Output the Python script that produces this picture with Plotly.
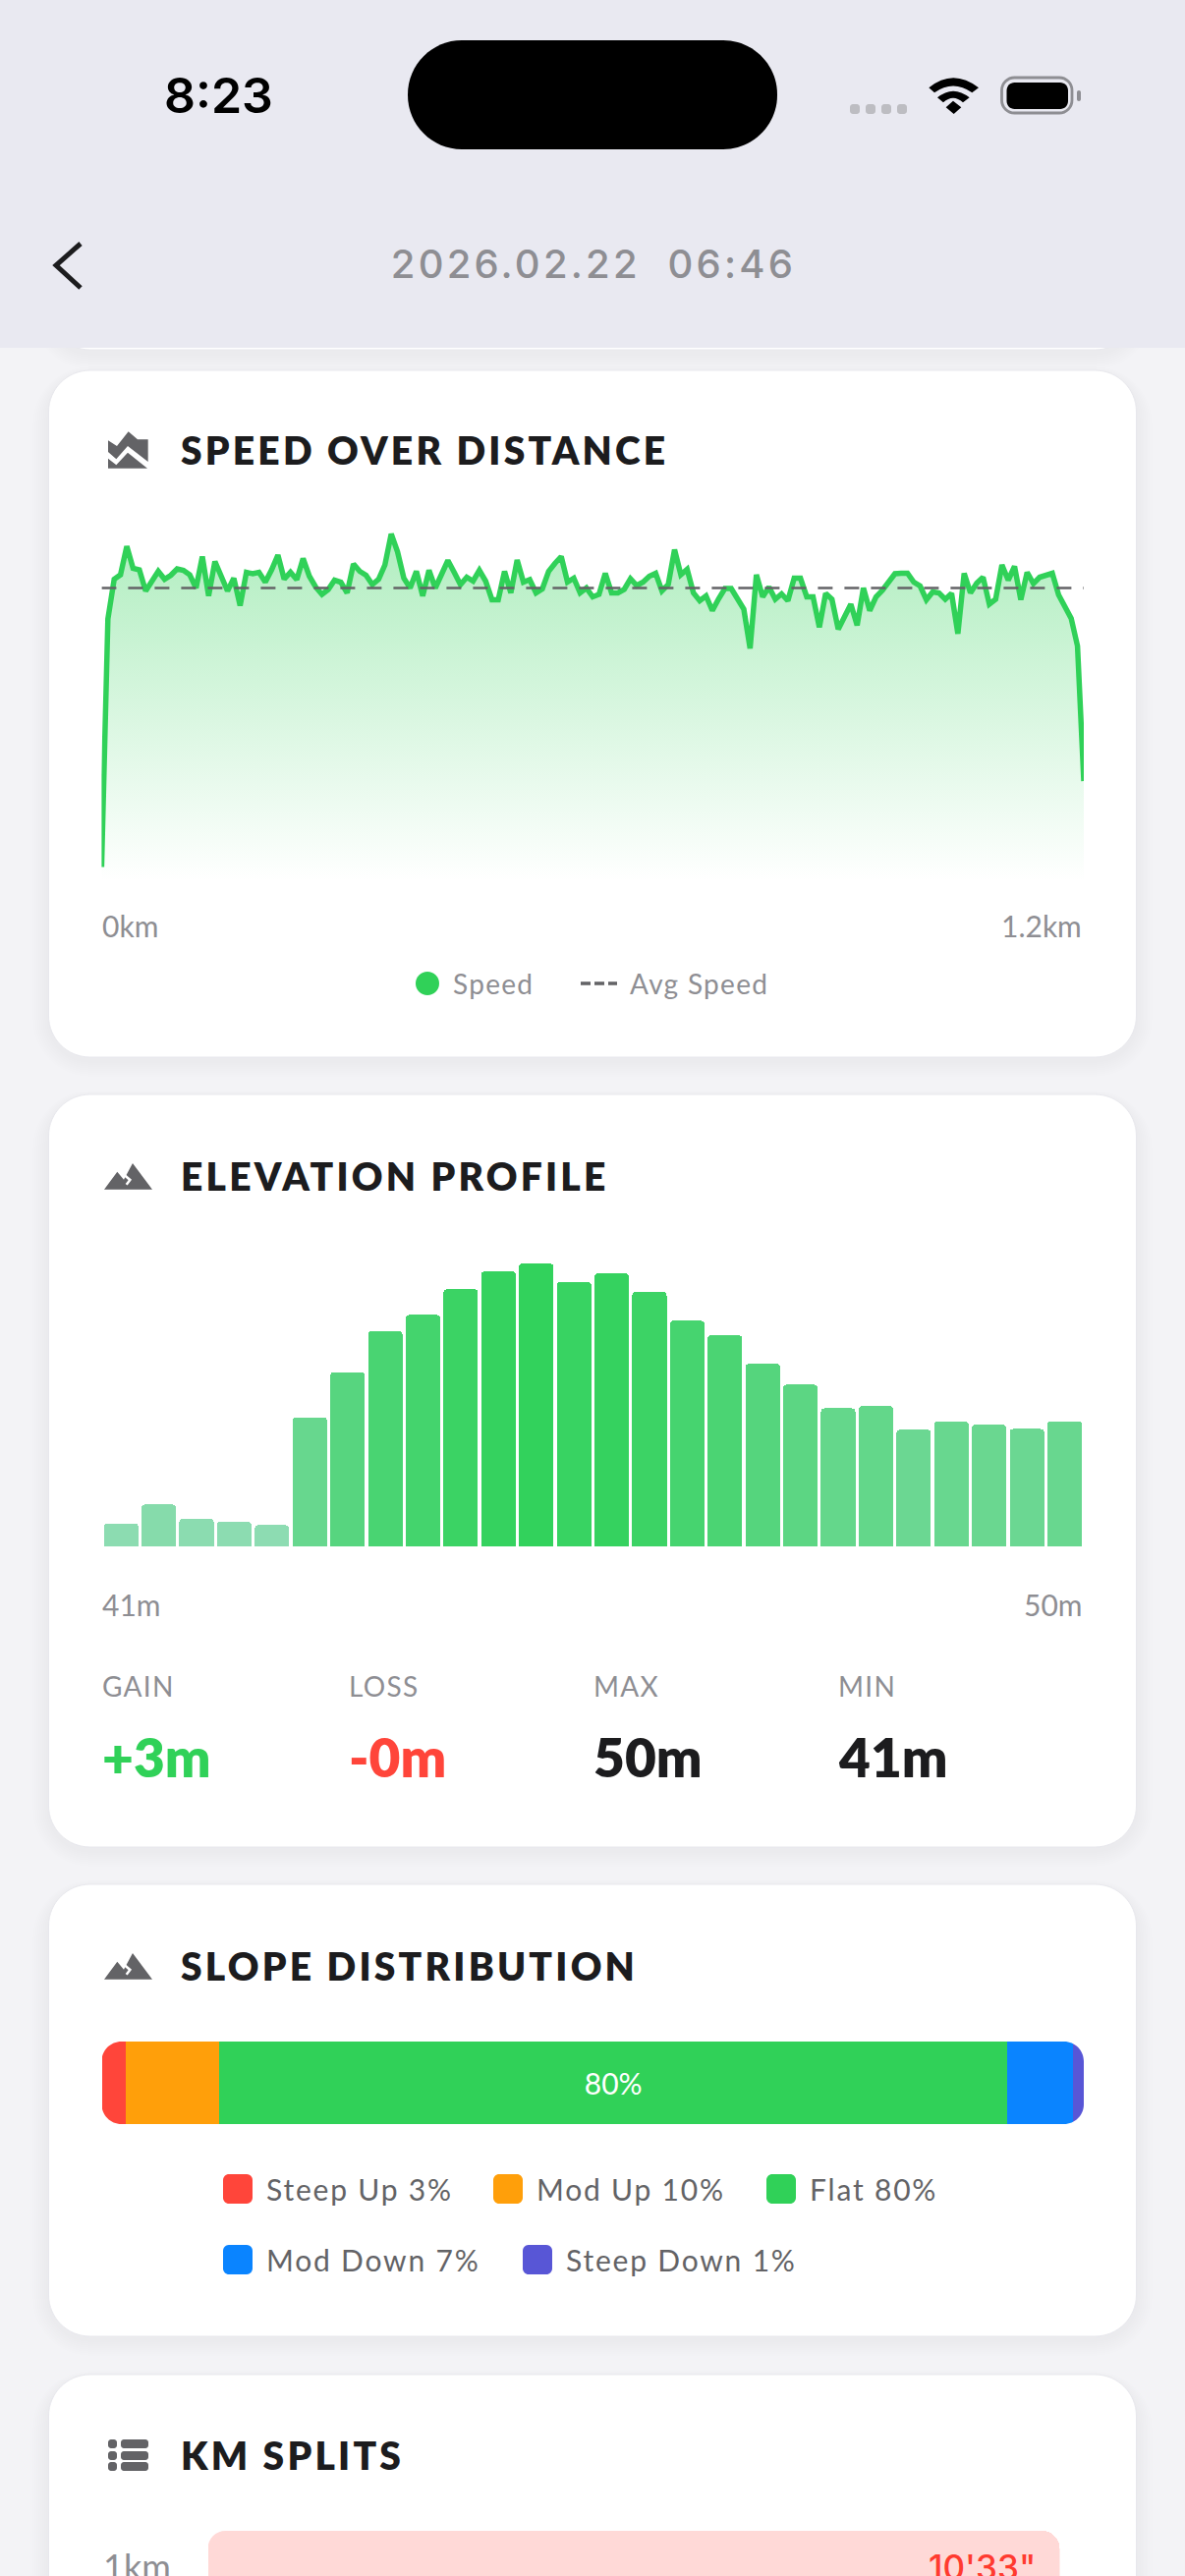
import json

import plotly.graph_objects as go

W = 1206
H = 2622

# km/h per sample along the run
SPEED = [
    0.29, 5.34, 6.15, 6.24, 6.82, 6.37, 6.34, 5.91, 6.11, 6.31, 6.15, 6.23, 6.36, 6.33, 6.24, 5.97,
    6.61, 5.81, 6.51, 6.24, 5.91, 6.17, 5.61, 6.29, 6.26, 6.29, 6.09, 6.34, 6.64, 6.15, 6.29, 6.14,
    6.57, 6.21, 5.99, 5.84, 5.94, 6.13, 6.09, 5.87, 6.46, 6.31, 6.23, 6.04, 6.15, 6.44, 7.07, 6.71,
    6.17, 5.97, 6.31, 5.81, 6.33, 5.97, 6.24, 6.53, 6.29, 6.04, 6.19, 6.11, 6.33, 6.11, 5.73, 5.73,
    6.31, 5.87, 6.54, 6.09, 6.14, 5.87, 5.95, 6.31, 6.47, 6.61, 6.09, 6.17, 5.87, 5.97, 5.79, 5.84,
    6.27, 5.87, 5.87, 5.94, 6.16, 6.02, 6.09, 6.21, 6.27, 5.91, 6.04, 6.75, 6.24, 6.35, 5.87, 5.71,
    5.81, 5.51, 5.75, 5.96, 5.96, 5.77, 5.54, 4.74, 6.24, 5.79, 5.99, 5.74, 5.85, 5.71, 6.17, 6.17,
    5.79, 5.79, 5.17, 5.86, 5.74, 5.13, 5.41, 5.64, 5.21, 5.97, 5.51, 5.79, 5.92, 6.09, 6.26, 6.27,
    6.27, 6.09, 6.01, 5.73, 5.89, 5.87, 5.74, 5.86, 5.04, 6.27, 5.87, 6.07, 6.19, 5.64, 5.74, 6.44,
    6.13, 6.41, 5.73, 6.29, 6.06, 6.19, 6.22, 6.27, 5.83, 5.59, 5.35, 4.79, 2.04,
]
AVG_SPEED = 5.97
SPEED_TICKS = ["0km", "1.2km"]

ELEVATION = [
    41.06, 41.71, 41.23, 41.12, 41.00, 44.71, 46.26, 47.67, 48.23, 49.11, 49.73, 50.00, 49.36,
    49.66, 49.02, 48.03, 47.53, 46.55, 45.83, 45.02, 45.10, 44.28, 44.57, 44.45, 44.31, 44.57,
]
ELEVATION_TICKS = ["41m", "50m"]
STAT_NAMES = ["GAIN", "LOSS", "MAX", "MIN"]
STAT_VALUES = ["+3m", "-0m", "50m", "41m"]

SLOPE_NAMES = ["Steep Up", "Mod Up", "Flat", "Mod Down", "Steep Down"]
SLOPE_SHARE = [2.45, 9.55, 80.2, 6.66, 1.14]
SLOPE_LABELS = ["3%", "10%", "80%", "7%", "1%"]

SPLIT_KM = ["1km"]
SPLIT_SECONDS = [633]
SPLIT_TEXT = ["10'33\""]

GREEN = "#30D158"
RED = "#FF453A"
ORANGE = "#FF9F0A"
BLUE = "#0A84FF"
PURPLE = "#5856D6"
INK = "#1C1C1E"
GREY = "#8E8E93"
DARK = "#636366"
SLOPE_COLORS = [RED, ORANGE, GREEN, BLUE, PURPLE]


def fx(x):
    return x / W


def fy(y):
    return 1 - y / H


def pt(x, y):
    return f"{fx(x):.6f},{fy(y):.6f}"


def rrect(x0, y0, x1, y1, r):
    k = r * 0.45
    return (
        f"M{pt(x0 + r, y0)} L{pt(x1 - r, y0)} C{pt(x1 - k, y0)} {pt(x1, y0 + k)} {pt(x1, y0 + r)} "
        f"L{pt(x1, y1 - r)} C{pt(x1, y1 - k)} {pt(x1 - k, y1)} {pt(x1 - r, y1)} "
        f"L{pt(x0 + r, y1)} C{pt(x0 + k, y1)} {pt(x0, y1 - k)} {pt(x0, y1 - r)} "
        f"L{pt(x0, y0 + r)} C{pt(x0, y0 + k)} {pt(x0 + k, y0)} {pt(x0 + r, y0)} Z"
    )


def corner(x, y, sx, sy, r):
    k = r * 0.45
    return (
        f"M{pt(x, y)} L{pt(x + sx * r, y)} "
        f"C{pt(x + sx * k, y)} {pt(x, y + sy * k)} {pt(x, y + sy * r)} Z"
    )


def poly(points):
    return "M" + " L".join(pt(x, y) for x, y in points) + " Z"


def line(points):
    return "M" + " L".join(pt(x, y) for x, y in points)


shapes = []
annotations = []
spacing = {}


def fill(path, color, layer="below"):
    shapes.append(
        dict(type="path", path=path, xref="paper", yref="paper", fillcolor=color, line_width=0, layer=layer)
    )


def stroke(path, color, width, dash="solid"):
    shapes.append(
        dict(
            type="path", path=path, xref="paper", yref="paper", line=dict(color=color, width=width, dash=dash),
            fillcolor="rgba(0,0,0,0)", layer="below",
        )
    )


def label(text, x, y, size, color, anchor="left", font="Lato", weight=400, track=0):
    annotations.append(
        dict(
            text=text, x=fx(x), y=fy(y), xref="paper", yref="paper", xanchor=anchor, yanchor="middle",
            align=anchor, showarrow=False, borderpad=0,
            font=dict(family=font, size=size, color=color, weight=weight),
        )
    )
    if track:
        spacing[text] = track


def card(y0, y1):
    for grow in range(8, 0, -1):
        fill(rrect(49 - grow * 2, y0 - grow + 4, 1157 + grow * 2, y1 + grow * 2 + 4, 42 + grow * 2), "rgba(0,0,0,0.004)")
    shapes.append(
        dict(
            type="path", path=rrect(49.5, y0, 1156.5, y1, 42), xref="paper", yref="paper", fillcolor="#FFFFFF",
            line=dict(color="#E8E8ED", width=1), layer="below",
        )
    )


def mountain(dy):
    z = lambda X, Y: (100 + X / 3, 1180 + dy + Y / 3)
    fill(poly([z(18, 92), z(58, 38), z(78, 62), z(105, 12), z(165, 92)]), DARK)
    stroke(line([z(66, 36), z(97, 63), z(86, 77)]), "#FFFFFF", 2.5)


# page background, cards, then the header on top of the card scrolled under it
card(200, 356)
card(377, 1076)
card(1114, 1880)
card(1918, 2378)
card(2417, 2720)
fill(poly([(0, 0), (W, 0), (W, 354), (0, 354)]), "#E9E9F1")

# status bar
fill(rrect(415, 41, 791, 152, 55), "#000000")
label("8:23", 222, 97, 50, "#000000", "center", "Inter", 600)
for X in [45, 93, 141, 189]:
    fill(rrect(850 + X / 3, 106, 860 + X / 3, 116, 3), "#BDBDC2")
wz = lambda X, Y: f"{pt(850 + X / 3, 60 + Y / 3)}"
fill(f"M{wz(286, 88)} Q{wz(360, 28)} {wz(438, 88)} L{wz(418, 103)} Q{wz(360, 62)} {wz(303, 103)} Z", "#000000")
fill(f"M{wz(312, 118)} Q{wz(360, 78)} {wz(410, 118)} L{wz(390, 133)} Q{wz(360, 106)} {wz(330, 133)} Z", "#000000")
fill(f"M{wz(338, 148)} L{wz(360, 128)} L{wz(385, 148)} L{wz(362, 168)} Z", "#000000")
shapes.append(
    dict(
        type="path", path=rrect(1019.5, 79, 1091, 115, 13), xref="paper", yref="paper", fillcolor="rgba(0,0,0,0)",
        line=dict(color=GREY, width=2.8), layer="below",
    )
)
fill(rrect(1024.5, 84, 1087, 111, 8), "#000000")
fill(rrect(1096, 92, 1100, 103, 2), GREY)

# nav bar
stroke(line([(82, 248), (57, 270), (82, 293)]), INK, 5)
label("2026.02.22\u00a0\u00a006:46", 604, 268, 40, GREY, "center", "Inter", 500, 3.2)

# speed card
label("SPEED OVER DISTANCE", 182.5, 458, 39, INK, weight=800, track=3.2)
sz = lambda X, Y: (100 + X / 3, 430 + Y / 3)
fill(poly([sz(30, 55), sz(57, 72), sz(92, 28), sz(120, 52), sz(152, 52), sz(152, 120), sz(90, 72), sz(55, 112), sz(30, 90)]), DARK)
fill(poly([sz(30, 110), sz(55, 130), sz(90, 92), sz(150, 140), sz(30, 140)]), DARK)
label(SPEED_TICKS[0], 103, 942, 30, GREY)
label(SPEED_TICKS[1], 1102, 942, 30, GREY, "right")
fill(rrect(423, 989, 447, 1013, 12), GREEN)
label("Speed", 460, 1001, 28, GREY, track=1.3)
stroke(line([(591, 1001), (628, 1001)]), DARK, 3.5, "10px,4px")
label("Avg Speed", 640, 1001, 28, GREY, track=1.3)

# elevation card
label("ELEVATION PROFILE", 182.5, 1197, 39, INK, weight=800, track=3.2)
mountain(0)
label(ELEVATION_TICKS[0], 103, 1633, 30, GREY)
label(ELEVATION_TICKS[1], 1102, 1633, 30, GREY, "right")
value_colors = ["#30D158", "#FF453A", INK, INK]
for x, name, value, color in zip([103, 354, 603, 852], STAT_NAMES, STAT_VALUES, value_colors):
    label(name, x, 1716, 28, GREY, track=1.3)
    label(value, x, 1788, 55, color, weight=800)

# slope card
label("SLOPE DISTRIBUTION", 182.5, 2001, 39, INK, weight=800, track=3.2)
mountain(804)
for x, name, share, color in zip([227, 502, 780], SLOPE_NAMES[:3], SLOPE_LABELS[:3], SLOPE_COLORS[:3]):
    fill(rrect(x, 2213, x + 30, 2243, 6), color)
    label(f"{name} {share}", x + 42.5, 2228, 30, DARK, track=1.8)
for x, name, share, color in zip([227, 532], SLOPE_NAMES[3:], SLOPE_LABELS[3:], SLOPE_COLORS[3:]):
    fill(rrect(x, 2285, x + 30, 2315, 6), color)
    label(f"{name} {share}", x + 42.5, 2300, 30, DARK, track=1.8)
for x, y, sx, sy in [(103.5, 2078, 1, 1), (1103, 2078, -1, 1), (103.5, 2162, 1, -1), (1103, 2162, -1, -1)]:
    fill(corner(x, y, sx, sy, 20), "#FFFFFF", layer="above")

# km splits card, cut off by the bottom of the screen
label("KM SPLITS", 182.5, 2499, 39, INK, weight=800, track=3.2)
for y in [2483, 2495, 2506]:
    fill(rrect(110, y, 119, y + 9, 3), DARK)
    fill(rrect(123, y, 151, y + 9, 3), DARK)
fill(corner(211.5, 2576, 1, 1, 18), "#FFFFFF", layer="above")
label(SPLIT_KM[0], 104, 2612, 36, GREY)
label(SPLIT_TEXT[0], 1055, 2613, 35, "#FF3B30", "right", "Inter", 500)

fig = go.Figure()

# speed over distance
samples = list(range(len(SPEED)))
fig.add_trace(
    go.Scatter(
        x=samples,
        y=SPEED,
        name="Speed",
        mode="lines",
        line=dict(color=GREEN, width=5.5),
        fill="tozeroy",
        fillgradient=dict(
            type="vertical",
            colorscale=[[0, "rgba(48,209,88,0)"], [1, "rgba(48,209,88,0.38)"]],
        ),
        cliponaxis=False,
        xaxis="x",
        yaxis="y",
    )
)
fig.add_trace(
    go.Scatter(
        x=[samples[0], samples[-1]],
        y=[AVG_SPEED, AVG_SPEED],
        name="Avg Speed",
        mode="lines",
        line=dict(color=DARK, width=2.6, dash="15px,12px"),
        cliponaxis=False,
        xaxis="x",
        yaxis="y",
    )
)

# elevation profile, the axis starts a little under the lowest bar
fig.add_trace(
    go.Bar(
        x=list(range(len(ELEVATION))),
        y=ELEVATION,
        width=0.915,
        marker=dict(
            color=ELEVATION,
            cmin=41,
            cmax=50,
            colorscale=[[0, "#8DDCB2"], [0.4, "#68D78F"], [1, "#32D25C"]],
            line_width=0,
            cornerradius=4,
        ),
        xaxis="x2",
        yaxis="y2",
    )
)

# slope distribution
for name, share, text, color in zip(SLOPE_NAMES, SLOPE_SHARE, SLOPE_LABELS, SLOPE_COLORS):
    fig.add_trace(
        go.Bar(
            x=[share],
            y=[0],
            name=name,
            orientation="h",
            width=1,
            marker=dict(color=color, line_width=0),
            text=[text] if name == "Flat" else None,
            textposition="inside",
            insidetextanchor="middle",
            textangle=0,
            textfont=dict(family="Lato", size=30, color="#FFFFFF"),
            xaxis="x3",
            yaxis="y3",
        )
    )

# km splits
fig.add_trace(
    go.Bar(
        x=SPLIT_SECONDS,
        y=[0],
        orientation="h",
        width=1,
        marker=dict(color="#FFD9D7", line_width=0, cornerradius=18),
        xaxis="x4",
        yaxis="y4",
    )
)

hidden = dict(visible=False, fixedrange=True)
fig.update_layout(
    width=W,
    height=H,
    margin=dict(l=0, r=0, t=0, b=0),
    paper_bgcolor="#F3F3F6",
    plot_bgcolor="rgba(0,0,0,0)",
    showlegend=False,
    hovermode=False,
    barmode="stack",
    font_family="Lato",
    shapes=shapes,
    annotations=annotations,
    xaxis=dict(domain=[fx(103.4), fx(1103)], range=[0, len(SPEED) - 1], **hidden),
    yaxis=dict(domain=[fy(897), fy(520)], range=[0, 7.54], **hidden),
    xaxis2=dict(domain=[fx(104), fx(1102.7)], range=[-0.5, len(ELEVATION) - 0.5], **hidden),
    yaxis2=dict(domain=[fy(1574), fy(1286)], range=[40.27, 50], **hidden),
    xaxis3=dict(domain=[fx(103.5), fx(1103)], range=[0, sum(SLOPE_SHARE)], **hidden),
    yaxis3=dict(domain=[fy(2162), fy(2078)], range=[-0.5, 0.5], **hidden),
    xaxis4=dict(domain=[fx(211.5), fx(1078.5)], range=[0, SPLIT_SECONDS[0]], **hidden),
    yaxis4=dict(domain=[0, fy(2576)], range=[-0.22, 0.5], **hidden),
)

# letter spacing has no plotly attribute, so it is set on the rendered text
post = """
document.body.style.margin = '0';
document.body.style.overflow = 'hidden';
var tracks = %s;
document.querySelectorAll('text.annotation-text').forEach(function (t) {
  var s = tracks[t.textContent];
  if (s) { t.style.letterSpacing = s + 'px'; }
});
""" % json.dumps(spacing)

fig.write_html("out.html", post_script=post, config={"displayModeBar": False})
